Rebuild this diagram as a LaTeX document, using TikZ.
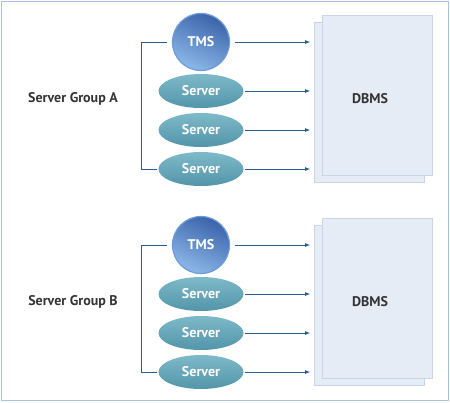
\documentclass[tikz,border=0pt]{standalone}
\usepackage{fontspec}
\setmainfont{PT Sans}
\usetikzlibrary{arrows.meta,shapes.geometric}
\definecolor{framecol}{HTML}{A9C3E6}
\definecolor{linkcol}{HTML}{2B5C8F}
\definecolor{dbfill}{HTML}{E5ECF5}
\definecolor{dbline}{HTML}{C8D5E6}
\definecolor{tmsdark}{HTML}{3A63AA}
\definecolor{tmslight}{HTML}{8CB8E8}
\definecolor{tmsrim}{HTML}{6E9BD8}
\definecolor{srvtop}{HTML}{7DB9C9}
\definecolor{srvmid}{HTML}{5EA1B5}
\definecolor{srvbot}{HTML}{5295A9}
\definecolor{txtcol}{HTML}{333333}
\tikzset{
  tms/.style={circle,minimum size=57pt,inner sep=0pt,draw=tmsrim,line width=1.2pt,
    top color=tmsdark,bottom color=tmslight,shading angle=-25,text=white,
    font=\fontsize{14}{16}\selectfont\bfseries},
  server/.style={ellipse,minimum width=85pt,minimum height=34pt,inner sep=0pt,
    top color=srvtop,middle color=srvmid,bottom color=srvbot,text=white,
    font=\fontsize{14}{16}\selectfont\bfseries},
  dbms/.style={rectangle,draw=dbline,fill=dbfill,line width=0.8pt,
    minimum width=110pt,minimum height=160pt},
  grouplabel/.style={text=txtcol,font=\fontsize{14}{16}\selectfont\bfseries},
  link/.style={draw=linkcol,line width=0.8pt},
  arrow/.style={link,-{Latex[length=5pt,width=4pt]},shorten >=4pt}
}
\begin{document}
\begin{tikzpicture}[x=1pt,y=-1pt]
\useasboundingbox (0,0) rectangle (450,402);
\draw[framecol,line width=1pt] (1.5,1.5) rectangle (448.5,400);
\foreach \g/\dy in {A/0,B/203}{
  \node[dbms] (back\g) at (369.5,102+\dy) {};
  \node[dbms] (db\g) at (377,95+\dy) {};
  \node[grouplabel] (dblbl\g) at (370,99+\dy) {DBMS};
  \node[grouplabel] (lbl\g) at (73,99+\dy) {Server Group \g};
  \node[tms] (tms\g) at (201,42+\dy) {TMS};
  \node[server] (s\g1) at (201,91+\dy) {Server};
  \node[server] (s\g2) at (201,130+\dy) {Server};
  \node[server] (s\g3) at (201,169+\dy) {Server};
  \draw[link] ([xshift=-5pt]tms\g.west) -- ++(-26,0) |- ([xshift=-1.5pt]s\g3.west);
  \draw[arrow] ([xshift=5pt]tms\g.east) -- (tms\g -| back\g.west);
  \foreach \i in {1,2,3}
    \draw[arrow] ([xshift=1.5pt]s\g\i.east) -- (s\g\i -| back\g.west);
}
\end{tikzpicture}
\end{document}
